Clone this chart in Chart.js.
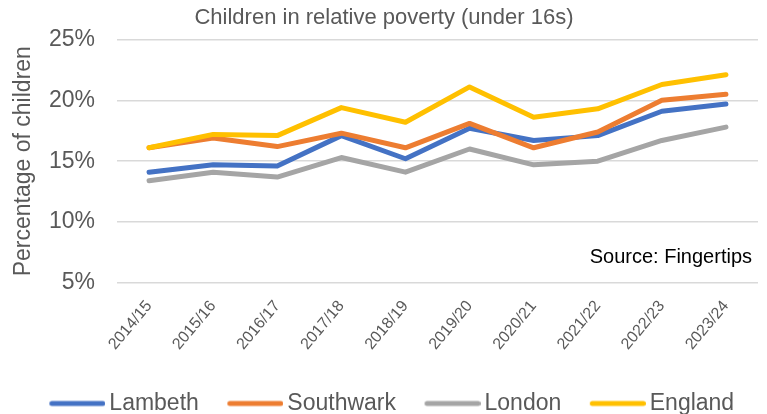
<!DOCTYPE html>
<html>
<head>
<meta charset="utf-8">
<script src="https://cdn.jsdelivr.net/npm/chart.js@4/dist/chart.umd.min.js"></script>
<style>
  html, body { margin: 0; padding: 0; background: #fff; }
  #wrap { width: 767px; height: 414px; position: relative; }
</style>
</head>
<body>
<div id="wrap"><canvas id="c"></canvas></div>
<script>
const years = ['2014/15','2015/16','2016/17','2017/18','2018/19','2019/20','2020/21','2021/22','2022/23','2023/24'];
const lambeth   = [14.1, 14.7, 14.6, 17.1, 15.2, 17.7, 16.7, 17.1, 19.1, 19.7];
const southwark = [16.1, 16.9, 16.2, 17.3, 16.1, 18.1, 16.1, 17.4, 20.0, 20.5];
const london    = [13.4, 14.1, 13.7, 15.3, 14.1, 16.0, 14.7, 15.0, 16.7, 17.8];
const england   = [16.1, 17.2, 17.1, 19.4, 18.2, 21.1, 18.6, 19.3, 21.3, 22.1];
const yTicks = [5, 10, 15, 20, 25];
const sourceNote = 'Source: Fingertips';

const FONT = "'Liberation Sans', Arial, sans-serif";
const GREY_TEXT = '#595959';

// Legend key: a short rounded stroke sitting at the right of a transparent
// image, so the key hugs its label while leaving room before it.
const KEY_BOX = 64;          // legend box width reserved by Chart.js
const KEY_IMG = KEY_BOX + 15; // image is wider, reaching towards the label
const KEY_LEN = 56;          // visible stroke length
function legendKey(color) {
  const c = document.createElement('canvas');
  c.width = KEY_IMG;
  c.height = 8;
  const g = c.getContext('2d');
  g.strokeStyle = color;
  g.lineWidth = 5;
  g.lineCap = 'round';
  g.beginPath();
  g.moveTo(KEY_IMG - KEY_LEN + 2.5, 4);
  g.lineTo(KEY_IMG - 2.5, 4);
  g.stroke();
  return c;
}

function series(label, data, color, order) {
  return {
    label, data, order,
    borderColor: color,
    backgroundColor: color,
    borderWidth: 5,
    borderCapStyle: 'round',
    borderJoinStyle: 'round',
    pointRadius: 0,
    pointStyle: legendKey(color),
    tension: 0,
    fill: false
  };
}

// Writes the data source note inside the plot, bottom right
const sourcePlugin = {
  id: 'sourceNote',
  afterDatasetsDraw(chart) {
    const { ctx, chartArea } = chart;
    ctx.save();
    ctx.font = '20px ' + FONT;
    ctx.fillStyle = '#000';
    ctx.textAlign = 'right';
    ctx.textBaseline = 'alphabetic';
    ctx.fillText(sourceNote, chartArea.right - 6, chartArea.bottom - 20);
    ctx.restore();
  }
};

new Chart(document.getElementById('c'), {
  type: 'line',
  data: {
    labels: years,
    datasets: [
      series('Lambeth', lambeth, '#4472C4', 3),
      series('Southwark', southwark, '#ED7D31', 2),
      series('London', london, '#A5A5A5', 1),
      series('England', england, '#FFC000', 0)
    ]
  },
  options: {
    responsive: true,
    maintainAspectRatio: false,
    animation: false,
    layout: { padding: { left: 10, right: 9, top: 3, bottom: -11 } },
    plugins: {
      title: {
        display: true,
        text: 'Children in relative poverty (under 16s)',
        color: GREY_TEXT,
        font: { family: FONT, size: 22, weight: 'normal' },
        padding: { top: 2, bottom: 8 }
      },
      legend: {
        position: 'bottom',
        labels: {
          sort: (a, b) => a.datasetIndex - b.datasetIndex,
          usePointStyle: true,
          pointStyleWidth: KEY_BOX,
          color: GREY_TEXT,
          font: { family: FONT, size: 23 },
          padding: 13
        }
      },
      tooltip: { enabled: false }
    },
    scales: {
      x: {
        offset: true,
        grid: { display: false },
        border: { display: false },
        afterFit(scale) { scale.height = 96; },
        ticks: {
          color: GREY_TEXT,
          font: { family: FONT, size: 16 },
          minRotation: 50,
          maxRotation: 50,
          padding: 6
        }
      },
      y: {
        min: 5,
        max: 25,
        afterBuildTicks(axis) { axis.ticks = yTicks.map(v => ({ value: v })); },
        afterFit(scale) { scale.width = 107; },
        grid: { color: '#D9D9D9', lineWidth: 1.5, drawTicks: false },
        border: { display: false },
        ticks: {
          color: GREY_TEXT,
          font: { family: FONT, size: 23 },
          padding: 22,
          callback: v => v + '%'
        },
        title: {
          display: true,
          text: 'Percentage of children',
          color: GREY_TEXT,
          font: { family: FONT, size: 23 },
          padding: { top: 0, bottom: 0 }
        }
      }
    }
  },
  plugins: [sourcePlugin]
});
</script>
</body>
</html>
